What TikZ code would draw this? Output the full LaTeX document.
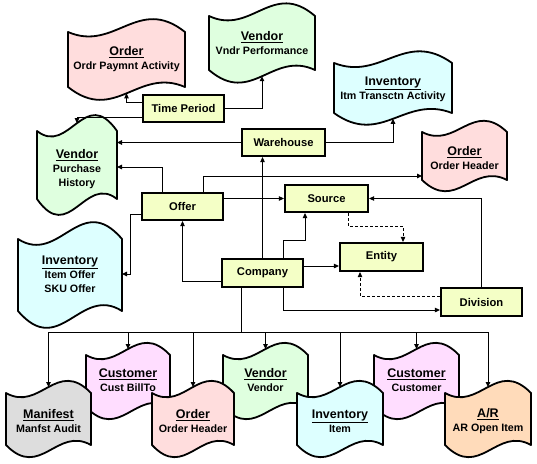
\documentclass[tikz,border=0pt]{standalone}
\usepackage{fontspec}
\setmainfont{Liberation Sans}
\usetikzlibrary{arrows.meta,calc}
\definecolor{boxyellow}{RGB}{244,255,198}
\definecolor{docpink}{RGB}{255,221,221}
\definecolor{docgreen}{RGB}{223,255,223}
\definecolor{doccyan}{RGB}{221,255,255}
\definecolor{docmagenta}{RGB}{255,221,255}
\definecolor{docgray}{RGB}{221,221,221}
\definecolor{docorange}{RGB}{255,219,186}
\tikzset{
  entbox/.style={draw, line width=2.2pt, fill=boxyellow, minimum height=27pt, inner sep=0pt,
    font=\bfseries\fontsize{11.2}{13}\selectfont},
  docline/.style={draw, line width=1.8pt, line join=round},
  doctext/.style={align=center, inner sep=0pt, font=\bfseries\fontsize{10.7}{14}\selectfont},
  conn/.style={line width=1pt},
  arr/.style={conn, -{Triangle[length=5pt,width=4.5pt]}},
  dasharr/.style={arr, dash pattern=on 3pt off 2pt},
}
\newcommand\doctitle[1]{{\fontsize{12.5}{14}\selectfont\underline{#1}}}
% #1 name, #2 cx, #3 yTop corners, #4 yBottom corners, #5 width, #6 fill, #7 text centre y, #8 content
\newcommand\wavedoc[8]{%
  \pgfmathsetmacro\dH{(#4-#3)/0.8125}%
  \pgfmathsetmacro\dA{0.3*\dH}%
  \pgfmathsetmacro\dB{0.55*\dH}%
  \pgfmathsetmacro\dXa{#2-#5/2}%
  \pgfmathsetmacro\dXb{#2+#5/2}%
  \pgfmathsetmacro\dXc{#2-0.1*#5}%
  \pgfmathsetmacro\dXd{#2+0.1*#5}%
  \path[docline, fill=#6] (\dXa,#3) .. controls (\dXc,#3+\dA) and (\dXd,#3-\dB) .. (\dXb,#3)
     -- (\dXb,#4) .. controls (\dXd,#4-\dA) and (\dXc,#4+\dB) .. (\dXa,#4) -- cycle;
  \node[inner sep=0pt, outer sep=0pt, minimum width=#5pt, minimum height=\dH pt] (#1) at (#2,{(#3+#4)/2}) {};
  \node[doctext] (#1-t) at (#2,#7) {#8};
}
\begin{document}
\begin{tikzpicture}[x=1pt,y=-1pt]
\useasboundingbox[fill=white] (0,0) rectangle (537,463);

% document shapes, upper part
\wavedoc{ord1}{126.5}{32}{87}{117}{docpink}{59}{\doctitle{Order}\\Ordr Paymnt Activity}
\wavedoc{ven1}{262}{16}{70}{106}{docgreen}{43.5}{\doctitle{Vendor}\\Vndr Performance}
\wavedoc{inv1}{393}{63}{113}{118}{doccyan}{89.5}{\doctitle{Inventory}\\Itm Transctn Activity}
\wavedoc{ord2}{464.5}{132}{180}{85}{docpink}{158}{\doctitle{Order}\\Order Header}
\wavedoc{venPH}{77}{131}{199}{80}{docgreen}{169}{\doctitle{Vendor}\\Purchase\\History}
\wavedoc{invOff}{70}{239}{311}{104}{doccyan}{274}{\doctitle{Inventory}\\Item Offer\\SKU Offer}

% document shapes, bottom rows
\wavedoc{cus1}{128}{355}{407}{84}{docmagenta}{380.5}{\doctitle{Customer}\\Cust BillTo}
\wavedoc{ven2}{265.5}{355}{407}{85}{docgreen}{380.5}{\doctitle{Vendor}\\Vendor}
\wavedoc{cus2}{416.5}{355}{407}{85}{docmagenta}{380.5}{\doctitle{Customer}\\Customer}
\wavedoc{man}{48.5}{393}{445}{85}{docgray}{421}{\doctitle{Manifest}\\Manfst Audit}
\wavedoc{ord3}{193}{393}{445}{82}{docpink}{421}{\doctitle{Order}\\Order Header}
\wavedoc{inv2}{340}{393}{445}{86}{doccyan}{421}{\doctitle{Inventory}\\Item}
\wavedoc{ar}{488}{393}{445}{86}{docorange}{421}{\doctitle{A/R}\\AR Open Item}

% entity boxes
\node[entbox, minimum width=81pt] (tp) at (183.5,108.5) {Time Period};
\node[entbox, minimum width=83pt] (wh) at (283.5,142.5) {Warehouse};
\node[entbox, minimum width=81pt] (offer) at (182.5,206.5) {Offer};
\node[entbox, minimum width=83pt] (src) at (326.5,198.5) {Source};
\node[entbox, minimum width=83pt, minimum height=28pt] (ent) at (381.5,257) {Entity};
\node[entbox, minimum width=81pt, minimum height=28pt] (comp) at (262.5,273) {Company};
\node[entbox, minimum width=81pt, minimum height=28pt] (div) at (481.5,302) {Division};

% connectors
\draw[arr] ([yshift=6.5pt]tp.west) -| (ord1.south);
\draw[arr] (tp.east) -| (ven1.south);
\draw[arr] ([yshift=-8.5pt]tp.west) -| (venPH.north);
\draw[arr] (wh.west) -- (wh.west -| venPH.east);
\draw[arr] (wh.east) -| (inv1.south);
\draw[arr] (comp.north) -- (comp.north |- wh.south);
\draw[arr] ([xshift=-20.5pt]offer.north) |- ([yshift=-2pt]venPH.east);
\draw[arr] ([yshift=-7.5pt]offer.west) -- ++(-10,0) |- ([yshift=1pt]invOff.east);
\draw[arr] ([xshift=20.5pt]offer.north) |- ([yshift=-20pt]ord2.west);
\draw[arr] (src.west -| offer.east) -- (src.west);
\draw[arr] ([yshift=-8pt]comp.west) -| (offer.south);
\draw[arr] ([xshift=20.5pt]comp.north) -- ++(0,-17) -| ([xshift=-21.5pt]src.south);
\draw[arr] ([yshift=7pt]comp.east) -- ([yshift=7pt]comp.east -| ent.west);
\draw[arr] ([xshift=20.5pt]comp.south) |- ([yshift=-8pt]div.west);
\draw[dasharr] ([xshift=21.5pt]src.south) -- ++(0,13) -| ([xshift=21.5pt]ent.north);
\draw[dasharr] ([yshift=6pt]div.west) -| ([xshift=-21.5pt]ent.south);
\draw[arr] (div.north) |- (src.east);

% bus to the bottom documents
\coordinate (bus) at (241,332);
\draw[conn] ([xshift=-21.5pt]comp.south) -- (bus);
\foreach \d in {man,cus1,ord3,ven2,inv2,cus2,ar}{
  \draw[arr] (bus) -| (\d.north);
}
\end{tikzpicture}
\end{document}
